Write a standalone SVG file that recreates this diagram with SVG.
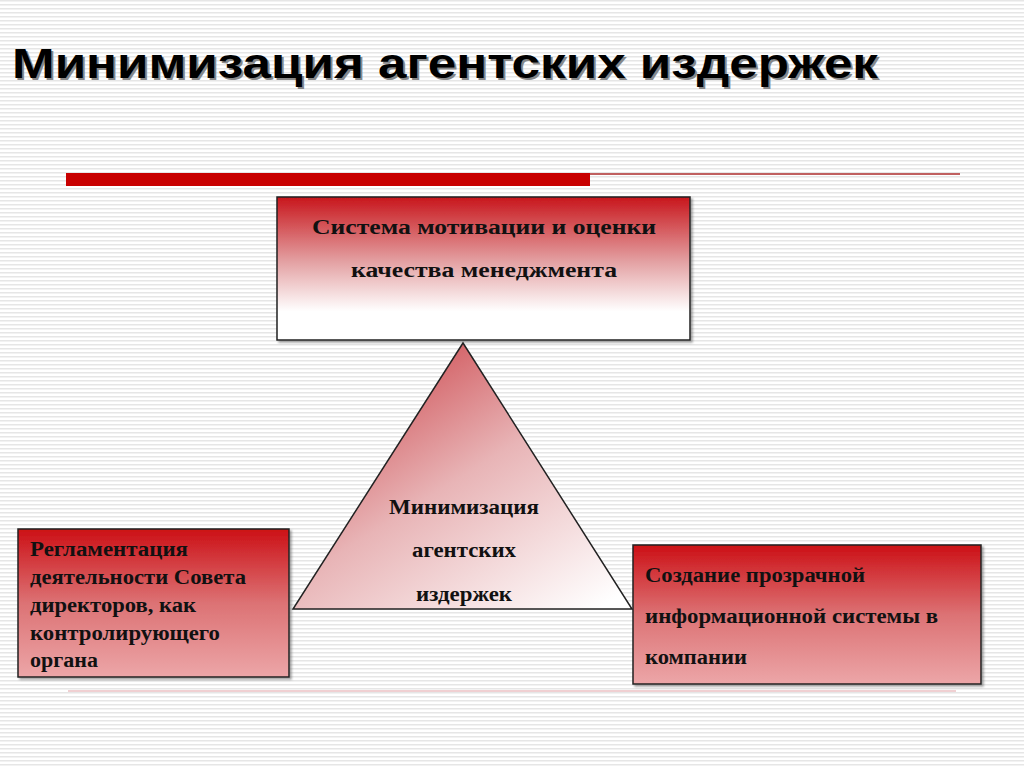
<svg xmlns="http://www.w3.org/2000/svg" width="1024" height="767" viewBox="0 0 1024 767">
<defs>
<pattern id="stripes" width="4" height="4" patternUnits="userSpaceOnUse"><rect width="4" height="4" fill="#ffffff"/><rect width="4" height="1.5" fill="#e6e6e6"/></pattern>
<linearGradient id="gTop" x1="0" y1="0" x2="0" y2="1"><stop offset="0" stop-color="#c8161c"/><stop offset="0.45" stop-color="#e3a0a2"/><stop offset="0.8" stop-color="#ffffff"/><stop offset="1" stop-color="#ffffff"/></linearGradient>
<linearGradient id="gBox" x1="0" y1="0" x2="0" y2="1"><stop offset="0" stop-color="#cc1016"/><stop offset="0.5" stop-color="#dc7274"/><stop offset="1" stop-color="#eca6a8"/></linearGradient>
<linearGradient id="gTri" x1="0.1" y1="0" x2="0.9" y2="1"><stop offset="0" stop-color="#c8363c"/><stop offset="0.5" stop-color="#e8b4b6"/><stop offset="1" stop-color="#ffffff"/></linearGradient>
<filter id="sh" x="-5%" y="-5%" width="115%" height="115%"><feDropShadow dx="2" dy="2" stdDeviation="1" flood-color="#666" flood-opacity="0.6"/></filter>
<style>
.t{font-family:"Liberation Serif","Times New Roman",serif;font-weight:bold;font-size:20px;fill:#111}
.box{stroke:#222;stroke-width:1.5;filter:url(#sh)}
</style>
</defs>
<rect width="1024" height="767" fill="url(#stripes)"/>
<text x="14" y="80" font-family="Liberation Sans,Arial,sans-serif" font-weight="bold" font-size="42" fill="#888" textLength="866" lengthAdjust="spacingAndGlyphs">Минимизация агентских  издержек</text>
<text x="12" y="78" font-family="Liberation Sans,Arial,sans-serif" font-weight="bold" font-size="42" fill="#000" textLength="866" lengthAdjust="spacingAndGlyphs">Минимизация агентских  издержек</text>
<rect x="66" y="173" width="524" height="13" fill="#c80000"/>
<line x1="590" y1="174" x2="960" y2="174" stroke="#c06060" stroke-width="2"/>
<line x1="68" y1="691" x2="956" y2="691" stroke="#f0d0d2" stroke-width="2"/>
<g id="connectors"></g>
<g id="top">
<rect class="box" x="277" y="197" width="413" height="143" fill="url(#gTop)"/>
<text class="t" x="484" y="234" text-anchor="middle" textLength="344" lengthAdjust="spacingAndGlyphs">Система мотивации и оценки</text>
<text class="t" x="484" y="277" text-anchor="middle" textLength="266" lengthAdjust="spacingAndGlyphs">качества менеджмента</text>
</g>
<g id="triangle">
<polygon points="463,343 632,609 293,609" fill="url(#gTri)" stroke="#222" stroke-width="1.5"/>
<text class="t" x="464" y="514" text-anchor="middle" textLength="150" lengthAdjust="spacingAndGlyphs">Минимизация</text>
<text class="t" x="464" y="557" text-anchor="middle" textLength="104" lengthAdjust="spacingAndGlyphs">агентских</text>
<text class="t" x="464" y="601" text-anchor="middle" textLength="96" lengthAdjust="spacingAndGlyphs">издержек</text>
</g>
<g id="left">
<rect class="box" x="18" y="529" width="271" height="148" fill="url(#gBox)"/>
<text class="t" x="30" y="556" textLength="158" lengthAdjust="spacingAndGlyphs">Регламентация</text>
<text class="t" x="30" y="584" textLength="216" lengthAdjust="spacingAndGlyphs">деятельности Совета</text>
<text class="t" x="30" y="612" textLength="166" lengthAdjust="spacingAndGlyphs">директоров, как</text>
<text class="t" x="30" y="640" textLength="190" lengthAdjust="spacingAndGlyphs">контролирующего</text>
<text class="t" x="30" y="667" textLength="68" lengthAdjust="spacingAndGlyphs">органа</text>
</g>
<g id="right">
<rect class="box" x="633" y="545" width="348" height="139" fill="url(#gBox)"/>
<text class="t" x="645" y="582" textLength="220" lengthAdjust="spacingAndGlyphs">Создание прозрачной</text>
<text class="t" x="645" y="623" textLength="293" lengthAdjust="spacingAndGlyphs">информационной системы в</text>
<text class="t" x="645" y="664" textLength="102" lengthAdjust="spacingAndGlyphs">компании</text>
</g>
</svg>
